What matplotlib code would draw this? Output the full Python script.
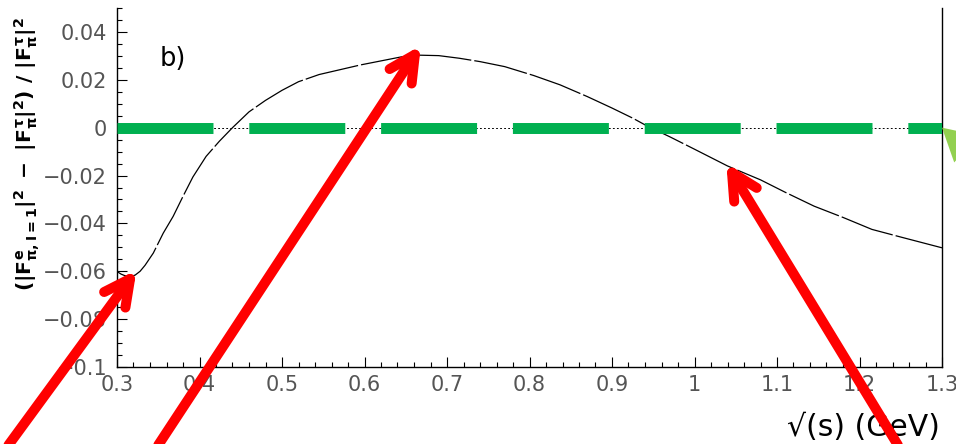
import numpy as np
import matplotlib
matplotlib.use("Agg")
import matplotlib.pyplot as plt
from matplotlib.lines import Line2D
from matplotlib.patches import Polygon
from matplotlib.transforms import IdentityTransform
from matplotlib.ticker import MultipleLocator, FixedLocator, FuncFormatter

# relative difference between the e+e- (I=1) and tau pion form factors
sqrt_s = [0.300, 0.305, 0.310, 0.316, 0.322, 0.328, 0.334, 0.344, 0.356, 0.368,
          0.380, 0.392, 0.408, 0.424, 0.440, 0.460, 0.480, 0.500, 0.520, 0.545,
          0.570, 0.595, 0.620, 0.645, 0.665, 0.690, 0.715, 0.740, 0.770, 0.805,
          0.837, 0.870, 0.900, 0.925, 0.942, 0.970, 1.000, 1.040, 1.080, 1.110,
          1.145, 1.180, 1.215, 1.250, 1.300]
rel_diff = [-0.0601, -0.0612, -0.0619, -0.0622, -0.0616, -0.0600, -0.0575, -0.0524, -0.0441, -0.0371,
            -0.0287, -0.0206, -0.0120, -0.0057, 0.0000, 0.0066, 0.0114, 0.0156, 0.0192, 0.0222,
            0.0242, 0.0262, 0.0279, 0.0296, 0.0303, 0.0301, 0.0290, 0.0276, 0.0255, 0.0218,
            0.0179, 0.0130, 0.0082, 0.0040, 0.0008, -0.0038, -0.0090, -0.0160, -0.0218, -0.0270,
            -0.0328, -0.0375, -0.0425, -0.0457, -0.0502]

# zero reference
ref_x = [0.3, 1.3]
ref_y = [0.0, 0.0]

x_ticks = [0.3, 0.4, 0.5, 0.6, 0.7, 0.8, 0.9, 1.0, 1.1, 1.2, 1.3]
y_ticks = [-0.1, -0.08, -0.06, -0.04, -0.02, 0.0, 0.02, 0.04]

panel_tag = "b)"
x_title = "\u221a(s) (GeV)"
y_title = r"$(|F^{e}_{\pi,I=1}|^{2}\ -\ |F^{\tau}_{\pi}|^{2})\ /\ |F^{\tau}_{\pi}|^{2}$"

# highlighted points on the curve (minimum, maximum, high-mass tail)
pointer_x = [0.3158, 0.661, 1.0455]
pointer_y = [-0.0632, 0.0305, -0.0188]

plt.rcParams["lines.scale_dashes"] = False
plt.rcParams["mathtext.fontset"] = "custom"
plt.rcParams["mathtext.rm"] = "DejaVu Sans:bold"
plt.rcParams["mathtext.it"] = "DejaVu Sans:bold"
plt.rcParams["mathtext.bf"] = "DejaVu Sans:bold"

W, H = 956, 444
fig = plt.figure(figsize=(W / 100, H / 100), dpi=100)
ax = fig.add_axes([117 / W, (H - 367) / H, 825 / W, 359 / H])

ax.set_xlim(0.3, 1.3)
ax.set_ylim(-0.1, 0.05)

ax.spines["top"].set_visible(False)
for s in ("left", "right", "bottom"):
    ax.spines[s].set_linewidth(1.0)
    ax.spines[s].set_color("black")

# dotted zero line, green dashed band and the curve
ax.plot(ref_x, ref_y, color="black", lw=0.7, linestyle=(0, (1.3, 1.6)), zorder=1.9)
ax.plot(sqrt_s, rel_diff, color="black", lw=0.9, linestyle=(0, (39.0, 2.2)), zorder=2.0)
ax.plot(ref_x, ref_y, color="#00B050", lw=7.9, linestyle=(0, (69.1, 25.8)),
        dash_capstyle="butt", zorder=3.0)


def fmt(v, pos):
    v = round(v, 4)
    if abs(v) < 1e-9:
        return "0"
    return ("%g" % v).replace("-", "\u2212")


ax.xaxis.set_major_locator(FixedLocator(x_ticks))
ax.yaxis.set_major_locator(FixedLocator(y_ticks))
ax.xaxis.set_minor_locator(MultipleLocator(0.02))
ax.yaxis.set_minor_locator(MultipleLocator(0.005))
ax.xaxis.set_major_formatter(FuncFormatter(fmt))
ax.yaxis.set_major_formatter(FuncFormatter(fmt))
ax.tick_params(which="both", direction="in", top=False, right=False, width=0.8,
               color="black", labelsize=15, labelcolor="#555555")
ax.tick_params(which="major", length=7.2)
ax.tick_params(which="minor", length=3.6)
ax.tick_params(axis="y", pad=7.2)
ax.tick_params(axis="x", pad=6.0)

fig.text(160 / W, 1 - 66 / H, panel_tag, fontsize=18.5, color="black",
         ha="left", va="baseline")
fig.text(940 / W, 2 / H, x_title, fontsize=21.5, color="black",
         ha="right", va="bottom")
fig.text(27 / W, 1 - 17 / H, y_title, fontsize=14.6, color="black",
         rotation=90, ha="center", va="top")

# red pointer arrows (display-pixel geometry)
ident = IdentityTransform()
red = "#FF0000"
tail_dirs = [(-120, -164), (-255, -388), (165, -271)]
arm_len = 29.0
half_angle = np.deg2rad(27)
lw_arrow = 7.2
for px, py, (dx, dy) in zip(pointer_x, pointer_y, tail_dirs):
    tx, ty = ax.transData.transform((px, py))
    d = np.array([dx, dy], dtype=float)
    d /= np.hypot(*d)
    tail = np.array([tx, ty]) + d * 600
    shaft = Line2D([tx, tail[0]], [ty, tail[1]], transform=ident, color=red,
                   lw=lw_arrow, solid_capstyle="round", clip_on=False, zorder=10)
    fig.add_artist(shaft)
    c, s = np.cos(half_angle), np.sin(half_angle)
    a1 = np.array([c * d[0] - s * d[1], s * d[0] + c * d[1]]) * arm_len
    a2 = np.array([c * d[0] + s * d[1], -s * d[0] + c * d[1]]) * arm_len
    head = Line2D([tx + a1[0], tx, tx + a2[0]], [ty + a1[1], ty, ty + a2[1]],
                  transform=ident, color=red, lw=lw_arrow, solid_capstyle="round",
                  solid_joinstyle="round", clip_on=False, zorder=10)
    fig.add_artist(head)

# light green arrow head entering from the right edge at the zero line
gx, gy = ax.transData.transform((1.3, 0.0))
g_dirs = [(0.33, -0.94), (0.98, -0.21)]
g_len = 37.0
tri = Polygon([[gx, gy],
               [gx + g_dirs[0][0] * g_len, gy + g_dirs[0][1] * g_len],
               [gx + g_dirs[1][0] * g_len, gy + g_dirs[1][1] * g_len]],
              closed=True, transform=ident, facecolor="#92D050", edgecolor="none",
              clip_on=False, zorder=11)
fig.add_artist(tri)

fig.savefig("out.png", dpi=100)
